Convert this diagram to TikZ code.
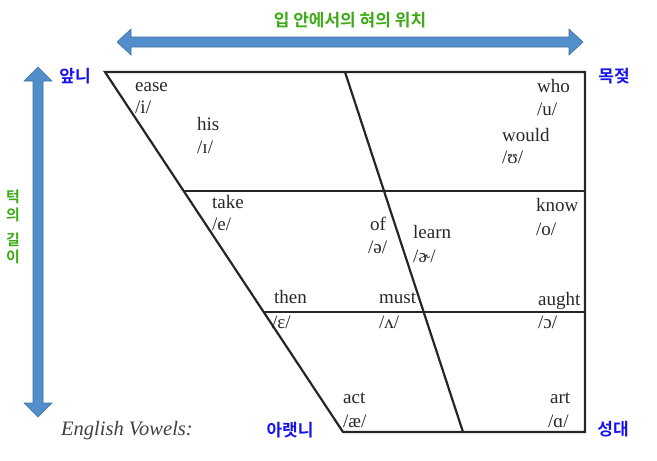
\documentclass[tikz,border=0pt]{standalone}
\usepackage{fontspec}
\setmainfont{Liberation Serif}
\newfontfamily\kofont{Noto Sans CJK KR}[BoldFont={* Bold}]
\definecolor{arrowfill}{RGB}{83,142,204}
\definecolor{arrowline}{RGB}{65,113,156}
\definecolor{kgreen}{RGB}{60,170,20}
\definecolor{kblue}{RGB}{20,20,235}
\definecolor{vtext}{RGB}{40,40,40}
\tikzset{
  vw/.style={font=\fontsize{19}{19}\selectfont, text=vtext, inner sep=0pt, anchor=base west},
  kb/.style={font=\kofont\bfseries\fontsize{17}{17}\selectfont, text=kblue, inner sep=0pt},
  kg/.style={font=\kofont\bfseries\fontsize{17}{17}\selectfont, text=kgreen, inner sep=0pt},
  kv/.style={font=\kofont\bfseries\fontsize{15}{15}\selectfont, text=kgreen, inner sep=0pt},
  chart/.style={line width=2.2pt, draw=black!85},
  bigarrow/.style={fill=arrowfill, draw=arrowline, line width=0.6pt}
}
\begin{document}
\begin{tikzpicture}[x=1pt,y=-1pt]
\useasboundingbox (0,0) rectangle (657,461);
% chart corners
\coordinate (TL) at (105,72);
\coordinate (TR) at (585,72);
\coordinate (BR) at (585,432);
\coordinate (BL) at (343,432);
\coordinate (M1) at (345,72);
\coordinate (M2) at (463,432);
\coordinate (H1a) at (184,191);
\coordinate (H1b) at (585,191);
\coordinate (H2a) at (264,312);
\coordinate (H2b) at (585,312);
\draw[chart, line join=miter] (TL) -- (TR) -- (BR) -- (BL) -- cycle;
\draw[chart] (M1) -- (M2);
\draw[chart] (H1a) -- (H1b);
\draw[chart] (H2a) -- (H2b);
% horizontal double arrow
\draw[bigarrow] (117,42) -- (131,29) -- (131,37) -- (569,37) -- (569,29) -- (583,42) -- (569,55) -- (569,47) -- (131,47) -- (131,55) -- cycle;
% vertical double arrow
\draw[bigarrow] (38,67) -- (52,81) -- (43,81) -- (43,403) -- (52,403) -- (38,417) -- (24,403) -- (33,403) -- (33,81) -- (24,81) -- cycle;
% Korean labels
\node[kg] (pos) at (350,20) {입 안에서의 혀의 위치};
\node[kb] (ap) at (75,76) {앞니};
\node[kb] (mok) at (614,76) {목젖};
\node[kb] (arae) at (290,430) {아랫니};
\node[kb] (seong) at (613,429) {성대};
\node[kv] (t1) at (13,197) {턱};
\node[kv] (t2) at (13,215) {의};
\node[kv] (t3) at (13,240) {길};
\node[kv] (t4) at (13,257) {이};
% vowel labels
\node[vw] (w1) at (135,91) {ease};
\node[vw] (p1) at (135,113) {/i/};
\node[vw] (w2) at (197,130) {his};
\node[vw] (p2) at (197,153) {/ɪ/};
\node[vw] (w3) at (537,92) {who};
\node[vw] (p3) at (537,115) {/u/};
\node[vw] (w4) at (502,141) {would};
\node[vw] (p4) at (502,163) {/ʊ/};
\node[vw] (w5) at (212,208) {take};
\node[vw] (p5) at (212,230) {/e/};
\node[vw] (w6) at (370,230) {of};
\node[vw] (p6) at (368,253) {/ə/};
\node[vw] (w7) at (413,238) {learn};
\node[vw] (p7) at (413,262) {/ɚ/};
\node[vw] (w8) at (536,211) {know};
\node[vw] (p8) at (536,235) {/o/};
\node[vw] (w9) at (274,303) {then};
\node[vw] (p9) at (272,328) {/ɛ/};
\node[vw] (w10) at (379,303) {must};
\node[vw] (p10) at (379,328) {/ʌ/};
\node[vw] (w11) at (538,305) {aught};
\node[vw] (p11) at (538,328) {/ɔ/};
\node[vw] (w12) at (343,403) {act};
\node[vw] (p12) at (343,427) {/æ/};
\node[vw] (w13) at (550,403) {art};
\node[vw] (p13) at (548,427) {/ɑ/};
\node[vw, font=\itshape\fontsize{20.5}{20.5}\selectfont, text=black!75] (title) at (61,435) {English Vowels:};
\end{tikzpicture}
\end{document}
